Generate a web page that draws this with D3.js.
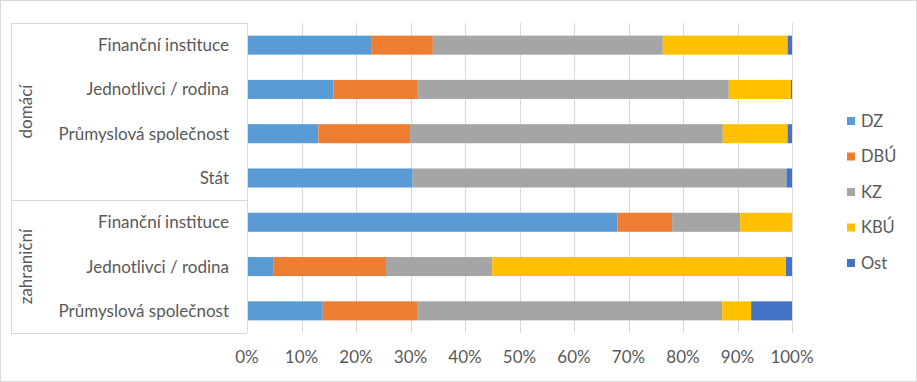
<!DOCTYPE html>
<html>
<head>
<meta charset="utf-8">
<script src="https://cdn.jsdelivr.net/npm/d3@7"></script>
<style>
  body { margin: 0; background: #fff; }
  svg text { font-family: Lato, "Noto Sans", sans-serif; fill: #595959; }
</style>
</head>
<body>
<svg id="chart" width="917" height="382"></svg>
<script>
// categories (top to bottom) and their groups
var groups = ['domácí', 'domácí', 'domácí', 'domácí', 'zahraniční', 'zahraniční', 'zahraniční'];
var categories = ['Finanční instituce', 'Jednotlivci / rodina', 'Průmyslová společnost', 'Stát',
                  'Finanční instituce', 'Jednotlivci / rodina', 'Průmyslová společnost'];
var seriesNames = ['DZ', 'DBÚ', 'KZ', 'KBÚ', 'Ost'];

// share of each series per row, in %
var DZ  = [22.9, 15.9, 13.1, 30.4, 68.0,  4.9, 13.9];
var DBU = [11.2, 15.3, 16.8,  0.0, 10.0, 20.6, 17.3];
var KZ  = [42.2, 57.2, 57.4, 68.6, 12.5, 19.5, 56.0];
var KBU = [22.9, 11.4, 11.9,  0.0,  9.5, 53.9,  5.3];
var Ost = [ 0.8,  0.2,  0.8,  1.0,  0.0,  1.1,  7.5];

var xTicks = [0, 0.1, 0.2, 0.3, 0.4, 0.5, 0.6, 0.7, 0.8, 0.9, 1];
var colors = ['#5B9BD5', '#ED7D31', '#A5A5A5', '#FFC000', '#4472C4'];

var rows = categories.map(function(c, i) {
    var tot = DZ[i] + DBU[i] + KZ[i] + KBU[i] + Ost[i];
    return {
        key: i,
        DZ: DZ[i] / tot, 'DBÚ': DBU[i] / tot, KZ: KZ[i] / tot,
        'KBÚ': KBU[i] / tot, Ost: Ost[i] / tot
    };
});

var svg = d3.select('#chart');

svg.append('rect')
    .attr('x', 0.5).attr('y', 0.5)
    .attr('width', 916).attr('height', 381)
    .attr('fill', '#fff')
    .attr('stroke', '#d9d9d9');

var pLeft = 247, pRight = 792, pTop = 23, pBottom = 333;

var x = d3.scaleLinear().domain([0, 1]).range([pLeft, pRight]);
var y = d3.scaleBand()
    .domain(d3.range(categories.length))
    .range([pTop, pBottom])
    .paddingInner(0.57)
    .paddingOuter(0.285);
var band = (pBottom - pTop) / categories.length;

// gridlines
svg.append('g')
    .selectAll('line')
    .data(xTicks)
    .enter()
    .append('line')
    .attr('x1', function(d) { return Math.round(x(d)) + 0.5; })
    .attr('x2', function(d) { return Math.round(x(d)) + 0.5; })
    .attr('y1', pTop)
    .attr('y2', pBottom)
    .attr('stroke', '#d9d9d9');

// x tick labels
svg.append('g')
    .selectAll('text')
    .data(xTicks)
    .enter()
    .append('text')
    .attr('x', function(d) { return x(d); })
    .attr('y', 363)
    .attr('text-anchor', 'middle')
    .style('font-size', '17px')
    .text(function(d) { return Math.round(d * 100) + '%'; });

// stacked bars
var stack = d3.stack().keys(seriesNames);
var layers = stack(rows);

svg.append('g')
    .selectAll('g')
    .data(layers)
    .enter()
    .append('g')
    .attr('fill', function(d, i) { return colors[i]; })
    .selectAll('rect')
    .data(function(d) { return d; })
    .enter()
    .append('rect')
    .attr('x', function(d) { return x(d[0]); })
    .attr('y', function(d) { return y(d.data.key); })
    .attr('width', function(d) { return Math.max(0, x(d[1]) - x(d[0])); })
    .attr('height', y.bandwidth());

// category labels
svg.append('g')
    .selectAll('text')
    .data(categories)
    .enter()
    .append('text')
    .attr('x', 229)
    .attr('y', function(d, i) { return y(i) + y.bandwidth() / 2; })
    .attr('dy', '0.35em')
    .attr('text-anchor', 'end')
    .style('font-size', '17px')
    .text(function(d) { return d; });

// group brackets
var groupNames = Array.from(new Set(groups));
var gl = svg.append('g').attr('stroke', '#d9d9d9').attr('fill', 'none');
gl.append('line').attr('x1', 11).attr('x2', pLeft).attr('y1', pTop + 0.5).attr('y2', pTop + 0.5);
gl.append('line').attr('x1', 11.5).attr('x2', 11.5).attr('y1', pTop).attr('y2', pBottom);
groupNames.forEach(function(g) {
    var idx = groups.map(function(d, i) { return d === g ? i : -1; }).filter(function(i) { return i >= 0; });
    var y0 = pTop + band * idx[0];
    var y1 = pTop + band * (idx[idx.length - 1] + 1);
    gl.append('line').attr('x1', 11).attr('x2', pLeft)
        .attr('y1', Math.round(y1) + 0.5).attr('y2', Math.round(y1) + 0.5);
    svg.append('text')
        .attr('transform', 'translate(26,' + ((y0 + y1) / 2) + ') rotate(-90)')
        .attr('dy', '0.35em')
        .attr('text-anchor', 'middle')
        .style('font-size', '17px')
        .text(g);
});

// axis line
svg.append('line')
    .attr('x1', pLeft + 0.5).attr('x2', pLeft + 0.5)
    .attr('y1', pTop).attr('y2', pBottom)
    .attr('stroke', '#d9d9d9');

// legend
var legend = svg.append('g')
    .selectAll('g')
    .data(seriesNames)
    .enter()
    .append('g')
    .attr('transform', function(d, i) { return 'translate(847,' + (121 + i * 35.5) + ')'; });

legend.append('rect')
    .attr('x', 0).attr('y', -4)
    .attr('width', 8).attr('height', 8)
    .attr('fill', function(d, i) { return colors[i]; });

legend.append('text')
    .attr('x', 14)
    .attr('dy', '0.35em')
    .style('font-size', '16.5px')
    .text(function(d) { return d; });
</script>
</body>
</html>
